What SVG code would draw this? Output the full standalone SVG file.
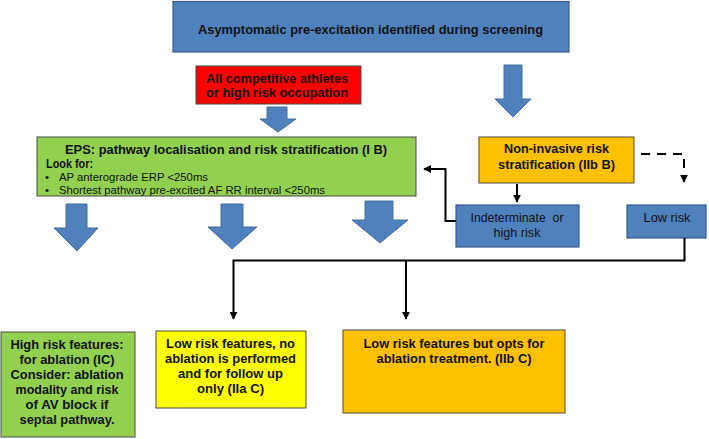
<svg xmlns="http://www.w3.org/2000/svg" width="709" height="439" viewBox="0 0 709 439">
<style>
.bg{fill:#ffffff}
.blue{fill:#4F81BD;stroke:#385D8A;stroke-width:1.2}
.red{fill:#FF0000;stroke:#4a4a4a;stroke-width:1}
.green{fill:#92D050;stroke:#4a4a4a;stroke-width:1}
.orange{fill:#FFC000;stroke:#4a4a4a;stroke-width:1}
.yellow{fill:#FFFF00;stroke:#4a4a4a;stroke-width:1}
.barrow{fill:#4F81BD;stroke:#41719C;stroke-width:1}
.t{font-family:"Liberation Sans",Arial,sans-serif;font-size:13px;fill:#111}
.b{font-weight:bold}
.c{text-anchor:middle}
.s{font-size:11.5px}
.big{font-size:13.5px}
.line{fill:none;stroke:#000;stroke-width:2}
.dash{fill:none;stroke:#000;stroke-width:2;stroke-dasharray:9,7}
</style>
<defs>
<marker id="ah" viewBox="0 0 10 10" refX="9" refY="5" markerWidth="4" markerHeight="4" orient="auto" markerUnits="strokeWidth">
<path d="M0,0 L10,5 L0,10 z" fill="#000"/>
</marker>
</defs>
<rect class="bg" x="0" y="0" width="709" height="439"/>

<g id="n-top">
<rect class="blue" x="173" y="1.5" width="396" height="50.5"/>
<text class="t b c big" x="370.5" y="33.5" textLength="345" lengthAdjust="spacingAndGlyphs">Asymptomatic pre-excitation identified during screening</text>
</g>

<g id="n-athletes">
<rect class="red" x="196" y="66" width="165" height="38"/>
<text class="t b c big" x="277" y="82.5" textLength="142" lengthAdjust="spacingAndGlyphs">All competitive athletes</text>
<text class="t b c big" x="277" y="97" textLength="142" lengthAdjust="spacingAndGlyphs">or high risk occupation</text>
</g>

<g id="n-eps">
<rect class="green" x="37" y="137" width="379" height="59"/>
<text class="t b c big" x="226" y="153.5" textLength="322" lengthAdjust="spacingAndGlyphs">EPS: pathway localisation and risk stratification (I B)</text>
<text class="t b" x="46" y="168" font-size="12" textLength="47" lengthAdjust="spacingAndGlyphs">Look for:</text>
<text class="t s" x="45" y="181">•</text>
<text class="t s" x="59" y="181" textLength="149" lengthAdjust="spacingAndGlyphs">AP anterograde ERP &lt;250ms</text>
<text class="t s" x="45" y="194">•</text>
<text class="t s" x="59" y="194" textLength="266" lengthAdjust="spacingAndGlyphs">Shortest pathway pre-excited AF RR interval &lt;250ms</text>
</g>

<g id="n-noninvasive">
<rect class="orange" x="479" y="137" width="155" height="46"/>
<text class="t b c big" x="556.5" y="153" textLength="105" lengthAdjust="spacingAndGlyphs">Non-invasive risk</text>
<text class="t b c big" x="556.5" y="169" textLength="117" lengthAdjust="spacingAndGlyphs">stratification (IIb B)</text>
</g>

<g id="n-indeterminate">
<rect class="blue" x="456" y="205" width="123" height="42"/>
<text class="t c" x="517" y="221.5" textLength="93" lengthAdjust="spacingAndGlyphs">Indeterminate&#160; or</text>
<text class="t c" x="517" y="236.5" textLength="47" lengthAdjust="spacingAndGlyphs">high risk</text>
</g>

<g id="n-lowrisk">
<rect class="blue" x="627" y="205" width="79" height="33"/>
<text class="t c" x="667" y="221.5" textLength="47" lengthAdjust="spacingAndGlyphs">Low risk</text>
</g>

<g id="n-highrisk">
<rect class="green" x="1" y="332" width="134" height="105"/>
<text class="t b c" x="67" y="348.5" textLength="113" lengthAdjust="spacingAndGlyphs">High risk features:</text>
<text class="t b c" x="67" y="363.5" textLength="95" lengthAdjust="spacingAndGlyphs">for ablation (IC)</text>
<text class="t b c" x="67" y="378.5" textLength="113" lengthAdjust="spacingAndGlyphs">Consider: ablation</text>
<text class="t b c" x="67" y="393.5" textLength="103" lengthAdjust="spacingAndGlyphs">modality and risk</text>
<text class="t b c" x="67" y="408.5" textLength="83" lengthAdjust="spacingAndGlyphs">of AV block if</text>
<text class="t b c" x="67" y="423.5" textLength="95" lengthAdjust="spacingAndGlyphs">septal pathway.</text>
</g>

<g id="n-lowfollow">
<rect class="yellow" x="156" y="331" width="150" height="77"/>
<text class="t b c" x="230.5" y="347.5" textLength="129" lengthAdjust="spacingAndGlyphs">Low risk features, no</text>
<text class="t b c" x="230.5" y="362.5" textLength="131" lengthAdjust="spacingAndGlyphs">ablation is performed</text>
<text class="t b c" x="230.5" y="377.5" textLength="105" lengthAdjust="spacingAndGlyphs">and for follow up</text>
<text class="t b c" x="230.5" y="392.5" textLength="67" lengthAdjust="spacingAndGlyphs">only (IIa C)</text>
</g>

<g id="n-lowablation">
<rect class="orange" x="343" y="330" width="222" height="83"/>
<text class="t b c" x="454" y="347.5" textLength="181" lengthAdjust="spacingAndGlyphs">Low risk features but opts for</text>
<text class="t b c" x="454" y="362.5" textLength="155" lengthAdjust="spacingAndGlyphs">ablation treatment. (IIb C)</text>
</g>

<g id="connectors">
<polygon class="barrow" points="267,107 287,107 287,119 296,119 278,132 260,119 267,119"/>
<polygon class="barrow" points="504,65 522,65 522,99 531,99 513,117 495,99 504,99"/>
<polygon class="barrow" points="66,204 87,204 87,228 98,228 77,251 54,228 66,228"/>
<polygon class="barrow" points="221,204 243,204 243,227 257,227 232,249 208,227 221,227"/>
<polygon class="barrow" points="365,201 393,201 393,220 408,220 380,243 352,220 365,220"/>
<path class="line" d="M517,184 V202" marker-end="url(#ah)"/>
<path class="dash" d="M641,154 H684 V182" marker-end="url(#ah)"/>
<path class="line" d="M456,221 H445.5 V169 H424" marker-end="url(#ah)"/>
<path class="line" d="M684.5,238 V260.5 H233.5 V319" marker-end="url(#ah)"/>
<path class="line" d="M406,260.5 V319" marker-end="url(#ah)"/>
</g>
</svg>
